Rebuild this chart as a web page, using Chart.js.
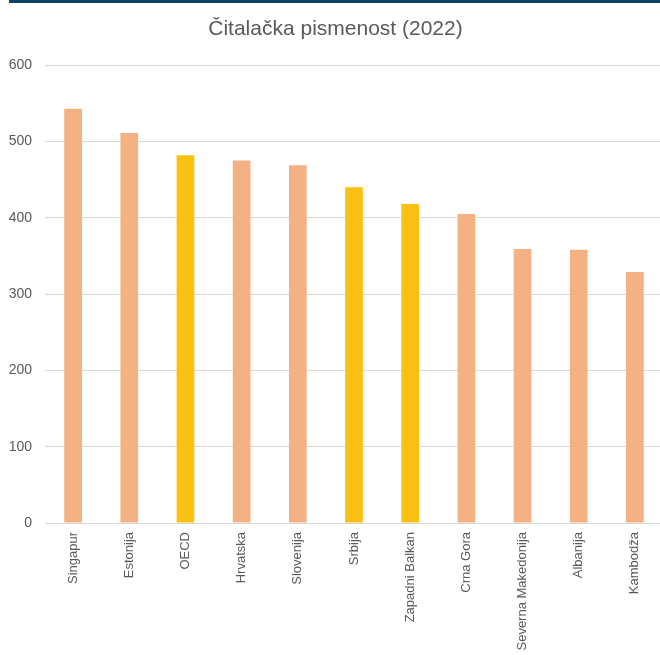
<!DOCTYPE html>
<html>
<head>
<meta charset="utf-8">
<script src="https://cdn.jsdelivr.net/npm/chart.js@4/dist/chart.umd.min.js"></script>
<style>
  html, body { margin: 0; padding: 0; background: #fff; overflow: hidden; }
  #wrap { position: relative; width: 660px; height: 655px; overflow: hidden; }
  #topbar { position: absolute; left: 9px; right: 0; top: 0; height: 3px; background: #0e4464; }
  #box { position: absolute; left: 0; top: 0; width: 663px; height: 655px; }
</style>
</head>
<body>
<div id="wrap">
  <div id="box"><canvas id="chart"></canvas></div>
  <div id="topbar"></div>
</div>
<script>
const titleText = "Čitalačka pismenost (2022)";
const categories = ["Singapur", "Estonija", "OECD", "Hrvatska", "Slovenija", "Srbija",
  "Zapadni Balkan", "Crna Gora", "Severna Makedonija", "Albanija", "Kambodža"];
const scores = [543, 511, 482, 475, 469, 440, 418, 405, 359, 358, 329];
const highlighted = ["OECD", "Srbija", "Zapadni Balkan"];
const yTicks = [0, 100, 200, 300, 400, 500, 600];

const peach = "#f4b183";
const gold = "#fcc012";
const textGrey = "#595959";

// boje stupaca: istaknuti su žuti
const barColors = categories.map(c => highlighted.includes(c) ? gold : peach);

const ctx = document.getElementById("chart").getContext("2d");

new Chart(ctx, {
  type: "bar",
  data: {
    labels: categories,
    datasets: [{
      label: titleText,
      data: scores,
      backgroundColor: barColors,
      borderWidth: 0,
      categoryPercentage: 1,
      barPercentage: 0.315
    }]
  },
  options: {
    responsive: true,
    maintainAspectRatio: false,
    animation: false,
    layout: {
      padding: { left: 8, right: 0, top: 0, bottom: 0 }
    },
    scales: {
      x: {
        grid: { display: false, drawTicks: false },
        border: { display: false },
        ticks: {
          minRotation: 90,
          maxRotation: 90,
          autoSkip: false,
          padding: 9,
          color: textGrey,
          font: { family: "'Liberation Sans', Arial, sans-serif", size: 13 }
        },
        afterFit(scale) {
          scale.height = 132;
        }
      },
      y: {
        min: 0,
        max: 600,
        afterBuildTicks(scale) {
          scale.ticks = yTicks.map(v => ({ value: v }));
        },
        grid: {
          color: "#d9d9d9",
          lineWidth: 1,
          drawTicks: false
        },
        border: { display: false },
        ticks: {
          padding: 13,
          color: textGrey,
          font: { family: "'Liberation Sans', Arial, sans-serif", size: 14 }
        },
        afterFit(scale) {
          scale.width = 37;
        }
      }
    },
    plugins: {
      legend: { display: false },
      tooltip: { enabled: false },
      title: {
        display: true,
        text: titleText,
        color: textGrey,
        font: { family: "'Liberation Sans', Arial, sans-serif", size: 21, weight: "normal" },
        padding: { top: 17, bottom: 23 }
      }
    }
  }
});
</script>
</body>
</html>
